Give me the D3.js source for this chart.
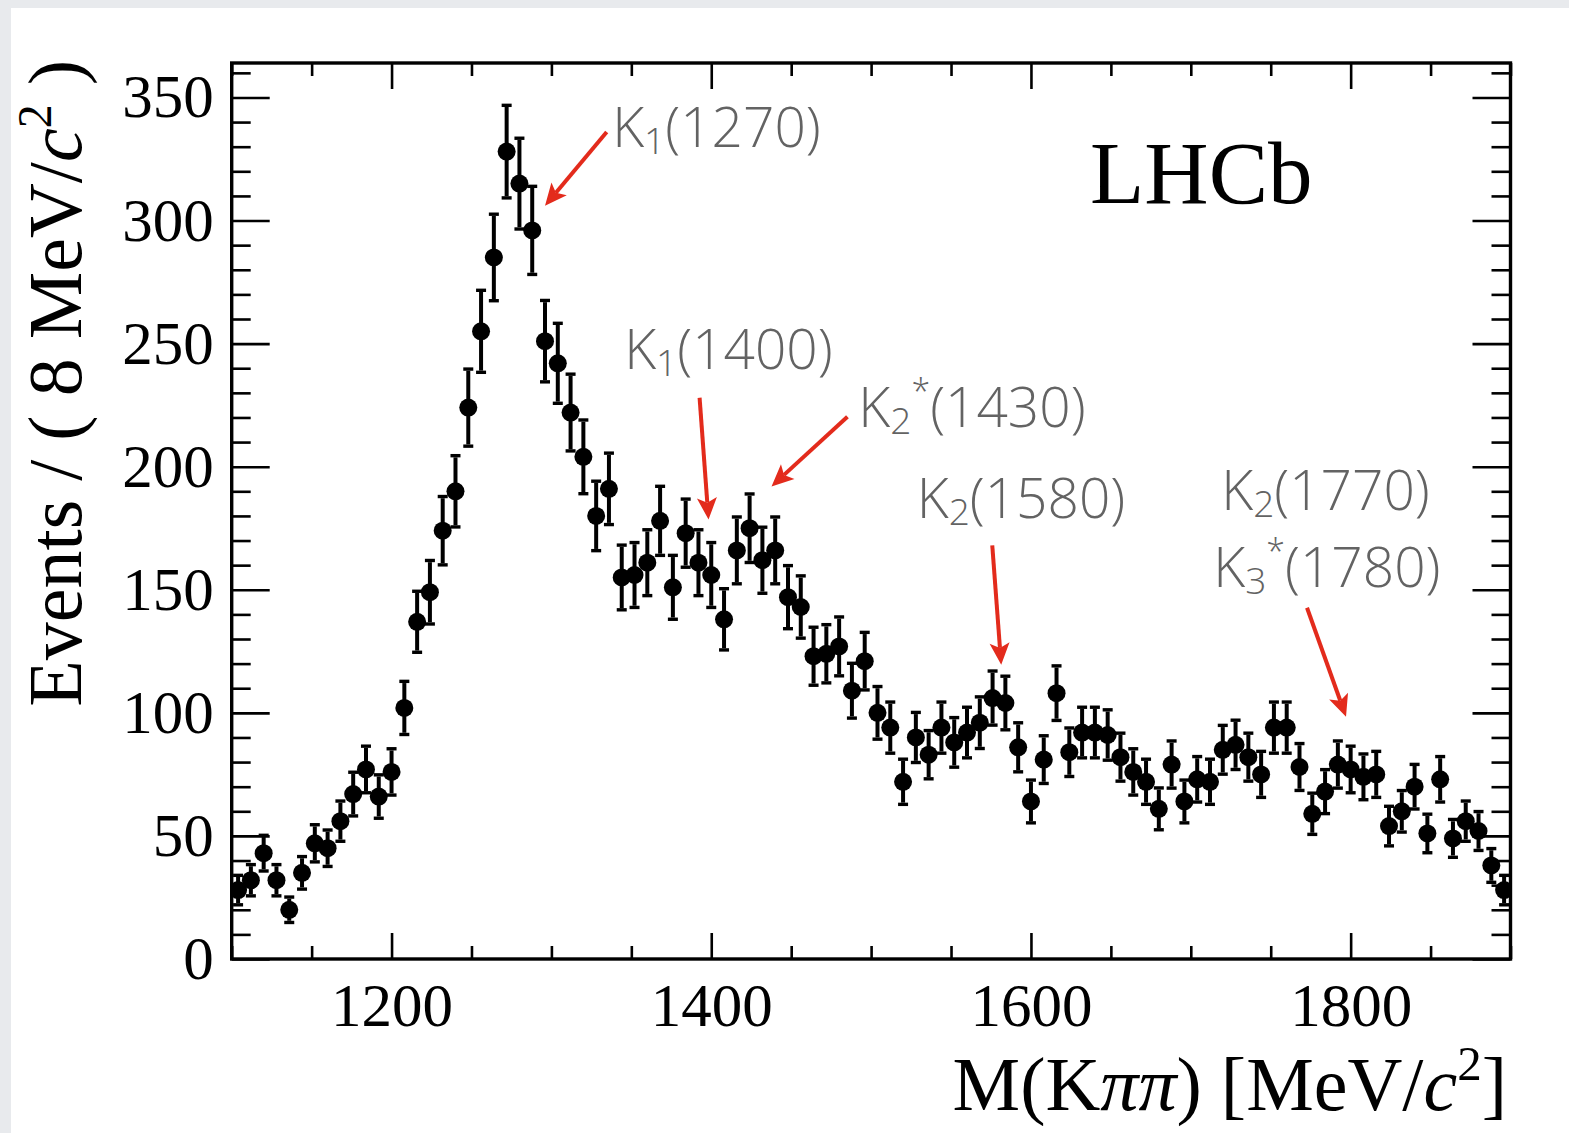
<!DOCTYPE html>
<html>
<head>
<meta charset="utf-8">
<script src="https://cdn.jsdelivr.net/npm/d3@7"></script>
<style>
  html, body { margin: 0; padding: 0; background: #e8eaed; }
  svg { display: block; }
</style>
</head>
<body>
<svg id="chart" width="1569" height="1133"></svg>
<script>
// K pi pi invariant mass spectrum, 8 MeV/c^2 bins from 1100 to 1900 MeV/c^2
const massRange = [1100, 1900];
const binWidth = 8;
const binCenters = d3.range(1104, 1900, binWidth);
const counts = [
  28, 32, 43, 32, 20, 35, 47, 45, 56, 67,
  77, 66, 76, 102, 137, 149, 174, 190, 224, 255,
  285, 328, 315, 296, 251, 242, 222, 204, 180, 191,
  155, 156, 161, 178, 151, 173, 161, 156, 138, 166,
  175, 162, 166, 147, 143, 123, 124, 127, 109, 121,
  100, 94, 72, 90, 83, 94, 88, 92, 96, 106,
  104, 86, 64, 81, 108, 84, 92, 92, 91, 82,
  76, 72, 61, 79, 64, 73, 72, 85, 87, 82,
  75, 94, 94, 78, 59, 68, 79, 77, 74, 75,
  54, 60, 70, 51, 73, 49, 56, 52, 38, 28
];
const yMax = 364;
const yMajorTicks = [0, 50, 100, 150, 200, 250, 300, 350];
const xMajorTicks = [1200, 1400, 1600, 1800];

// Resonance labels: text anchor and arrow (start -> tip), in axis units
const resonances = [
  { parts: [["K"], ["1", "sub"], ["(1270)"]], at: [1338, 330], from: [1334.6, 336], to: [1296, 306] },
  { parts: [["K"], ["1", "sub"], ["(1400)"]], at: [1345.5, 239.5], from: [1392.7, 228], to: [1398.3, 178.5] },
  { parts: [["K"], ["2", "sub"], ["*", "sup"], ["(1430)"]], at: [1492, 216], from: [1485.2, 220.3], to: [1437.7, 192] },
  { parts: [["K"], ["2", "sub"], ["(1580)"]], at: [1528.5, 179], from: [1575.8, 168], to: [1581.4, 119.5] },
  { parts: [["K"], ["2", "sub"], ["(1770)"]], at: [1719, 182.5], from: null, to: null },
  { parts: [["K"], ["3", "sub"], ["*", "sup"], ["(1780)"]], at: [1714, 151], from: [1772.7, 142.7], to: [1797.1, 98.4] }
];

const serif = "'Liberation Serif', 'Times New Roman', Times, serif";
const annotFont = "'Open Sans', 'Noto Sans', sans-serif";
const annotColor = "#636363";
const arrowColor = "#e32b1c";

const W = 1569, H = 1133;
const margin = { left: 231.7, right: W - 1510.5, top: 63, bottom: H - 959 };
const svg = d3.select("#chart");

// page: pale grey edge around a white sheet
svg.append("rect").attr("width", W).attr("height", H).attr("fill", "#e8eaed");
svg.append("rect").attr("x", 11).attr("y", 8).attr("width", W - 11).attr("height", H - 8).attr("fill", "#ffffff");

const x = d3.scaleLinear().domain(massRange).range([margin.left, W - margin.right]);
const y = d3.scaleLinear().domain([0, yMax]).range([H - margin.bottom, margin.top]);
const x0 = x.range()[0], x1 = x.range()[1], y0 = y.range()[0], y1 = y.range()[1];

const yMinorTicks = d3.range(0, yMax + 1, 10).filter(v => v % 50 !== 0);
const xMinorTicks = d3.range(1100, 1901, 50).filter(v => v % 200 !== 0);

function styleAxis(g) {
  g.select(".domain").remove();
  g.selectAll(".tick line").attr("stroke", "#000").attr("stroke-width", 2.6);
  g.selectAll("text").attr("font-family", serif).attr("font-size", 61).attr("fill", "#000");
}

// left axis, major + minor ticks pointing into the frame
svg.append("g").attr("transform", `translate(${x0},0)`)
  .call(d3.axisLeft(y).tickValues(yMajorTicks).tickSize(-38).tickPadding(18).tickFormat(d3.format("d")))
  .call(styleAxis);
svg.append("g").attr("transform", `translate(${x0},0)`)
  .call(d3.axisLeft(y).tickValues(yMinorTicks).tickSize(-19).tickFormat(""))
  .call(styleAxis);
// right axis mirror ticks
svg.append("g").attr("transform", `translate(${x1},0)`)
  .call(d3.axisRight(y).tickValues(yMajorTicks).tickSize(-38).tickFormat(""))
  .call(styleAxis);
svg.append("g").attr("transform", `translate(${x1},0)`)
  .call(d3.axisRight(y).tickValues(yMinorTicks).tickSize(-19).tickFormat(""))
  .call(styleAxis);
// bottom axis
svg.append("g").attr("transform", `translate(0,${y0})`)
  .call(d3.axisBottom(x).tickValues(xMajorTicks).tickSize(-26).tickPadding(24).tickFormat(d3.format("d")))
  .call(styleAxis);
svg.append("g").attr("transform", `translate(0,${y0})`)
  .call(d3.axisBottom(x).tickValues(xMinorTicks).tickSize(-13).tickFormat(""))
  .call(styleAxis);
// top axis mirror ticks
svg.append("g").attr("transform", `translate(0,${y1})`)
  .call(d3.axisTop(x).tickValues(xMajorTicks).tickSize(-26).tickFormat(""))
  .call(styleAxis);
svg.append("g").attr("transform", `translate(0,${y1})`)
  .call(d3.axisTop(x).tickValues(xMinorTicks).tickSize(-13).tickFormat(""))
  .call(styleAxis);

// data points with Poisson error bars, clipped to the frame
svg.append("clipPath").attr("id", "plot-clip")
  .append("rect").attr("x", x0).attr("y", y1).attr("width", x1 - x0).attr("height", y0 - y1);
const pts = svg.append("g").attr("clip-path", "url(#plot-clip)");
const data = binCenters.map((m, i) => ({ m, n: counts[i], e: Math.sqrt(counts[i]) }));
const capW = 10, capH = 3.4;
const pt = pts.selectAll("g.pt").data(data).join("g").attr("class", "pt");
pt.append("line")
  .attr("x1", d => x(d.m)).attr("x2", d => x(d.m))
  .attr("y1", d => y(d.n + d.e)).attr("y2", d => y(d.n - d.e))
  .attr("stroke", "#000").attr("stroke-width", 4);
pt.append("rect")
  .attr("x", d => x(d.m) - capW / 2).attr("y", d => y(d.n + d.e) - capH)
  .attr("width", capW).attr("height", capH).attr("fill", "#000");
pt.append("rect")
  .attr("x", d => x(d.m) - capW / 2).attr("y", d => y(d.n - d.e))
  .attr("width", capW).attr("height", capH).attr("fill", "#000");
pt.append("circle")
  .attr("cx", d => x(d.m)).attr("cy", d => y(d.n)).attr("r", 9).attr("fill", "#000");

// frame
svg.append("rect").attr("x", x0).attr("y", y1).attr("width", x1 - x0).attr("height", y0 - y1)
  .attr("fill", "none").attr("stroke", "#000").attr("stroke-width", 3.4);

// axis titles
const yTitle = svg.append("text")
  .attr("transform", `translate(81,60) rotate(-90)`)
  .attr("text-anchor", "end").attr("font-family", serif).attr("font-size", 76).attr("fill", "#000");
yTitle.append("tspan").text("Events / ( 8 MeV/");
yTitle.append("tspan").attr("font-style", "italic").text("c");
yTitle.append("tspan").attr("font-size", 48).attr("dy", -30).text("2");
yTitle.append("tspan").attr("dy", 30).text(" )");

const xTitle = svg.append("text")
  .attr("x", 1507).attr("y", 1110)
  .attr("text-anchor", "end").attr("font-family", serif).attr("font-size", 76).attr("fill", "#000");
xTitle.append("tspan").text("M(K");
xTitle.append("tspan").attr("font-style", "italic").text("ππ");
xTitle.append("tspan").text(") [MeV/");
xTitle.append("tspan").attr("font-style", "italic").text("c");
xTitle.append("tspan").attr("font-size", 49).attr("dy", -30).text("2");
xTitle.append("tspan").attr("dy", 30).text("]");

svg.append("text").attr("x", 1090).attr("y", 203)
  .attr("font-family", serif).attr("font-size", 89).attr("fill", "#000").text("LHCb");

// resonance annotations
const ann = svg.append("g");
resonances.forEach(r => {
  const t = ann.append("text")
    .attr("x", x(r.at[0])).attr("y", y(r.at[1]))
    .attr("font-family", annotFont).attr("font-weight", 300)
    .attr("font-size", 55).attr("fill", annotColor);
  let shift = 0;
  r.parts.forEach(([s, kind]) => {
    const ts = t.append("tspan").text(s);
    let target = 0;
    if (kind === "sub") { ts.attr("font-size", 37); target = 7; }
    else if (kind === "sup") { ts.attr("font-size", 34); target = -23; }
    ts.attr("dy", target - shift);
    shift = target;
  });
  if (r.from) {
    const fx = x(r.from[0]), fy = y(r.from[1]), tx = x(r.to[0]), ty = y(r.to[1]);
    const ang = Math.atan2(ty - fy, tx - fx);
    const headLen = 22, headHalf = 10, notch = 5;
    const ux = Math.cos(ang), uy = Math.sin(ang);
    const bx = tx - ux * headLen, by = ty - uy * headLen;
    ann.append("line")
      .attr("x1", fx).attr("y1", fy).attr("x2", bx + ux * notch).attr("y2", by + uy * notch)
      .attr("stroke", arrowColor).attr("stroke-width", 4);
    const head = [
      [tx, ty],
      [bx - uy * headHalf, by + ux * headHalf],
      [bx + ux * notch, by + uy * notch],
      [bx + uy * headHalf, by - ux * headHalf]
    ];
    ann.append("path").attr("d", "M" + head.map(p => p.join(",")).join("L") + "Z").attr("fill", arrowColor);
  }
});
</script>
</body>
</html>
